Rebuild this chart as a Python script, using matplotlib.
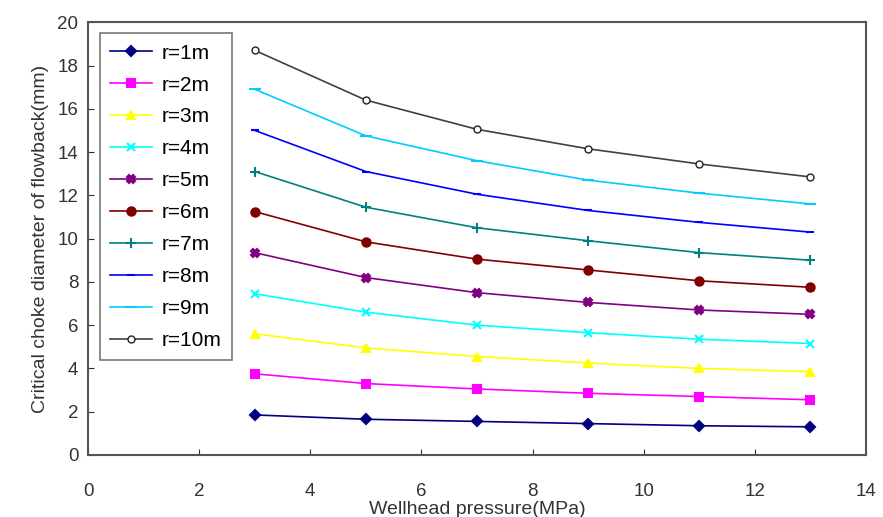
import numpy as np
import matplotlib
matplotlib.use("Agg")
import matplotlib.pyplot as plt

plt.rcParams['font.family'] = ['Liberation Sans', 'DejaVu Sans']

pressure = [3, 5, 7, 9, 11, 13]
labels = ["r=1m", "r=2m", "r=3m", "r=4m", "r=5m", "r=6m", "r=7m", "r=8m", "r=9m", "r=10m"]

r1 = [1.85, 1.65, 1.55, 1.45, 1.35, 1.30]
r2 = [3.75, 3.30, 3.05, 2.85, 2.70, 2.55]
r3 = [5.60, 4.95, 4.55, 4.25, 4.00, 3.85]
r4 = [7.45, 6.60, 6.00, 5.65, 5.35, 5.15]
r5 = [9.35, 8.20, 7.50, 7.05, 6.70, 6.50]
r6 = [11.25, 9.85, 9.05, 8.55, 8.05, 7.75]
r7 = [13.10, 11.45, 10.50, 9.90, 9.35, 9.00]
r8 = [15.00, 13.10, 12.05, 11.30, 10.75, 10.30]
r9 = [16.90, 14.75, 13.60, 12.70, 12.10, 11.60]
r10 = [18.70, 16.40, 15.05, 14.15, 13.45, 12.85]
series = [r1, r2, r3, r4, r5, r6, r7, r8, r9, r10]

colors = ["#000080", "#ff00ff", "#ffff00", "#00ffff", "#800080",
          "#800000", "#008080", "#0000ff", "#00ccff", "#404040"]
markers = ["D", "s", "^", "x", "X", "o", "+", "_", "_", "o"]
msizes = [5, 6, 6, 6, 6, 6, 7, 6, 8, 5]

fig = plt.figure(figsize=(8.83, 5.17), dpi=100)
ax = fig.add_axes([0.0997, 0.12, 0.881, 0.837])

for ys, lab, c, m, ms in zip(series, labels, colors, markers, msizes):
    if lab == "r=10m":
        ax.plot(pressure, ys, color=c, lw=1.2, marker=m, ms=ms,
                markerfacecolor="white", markeredgecolor="#222222", label=lab)
    else:
        ax.plot(pressure, ys, color=c, lw=1.2, marker=m, ms=ms,
                markeredgewidth=1.5, label=lab)

ax.set_xlim(0, 14)
ax.set_ylim(0, 20)
ax.set_xticks(np.arange(0, 15, 2))
ax.set_yticks(np.arange(0, 21, 2))
ax.tick_params(direction="in", length=4, labelsize=13.5, colors="#333333",
               labelcolor="#333333")
ax.tick_params(axis="x", pad=20)
ax.tick_params(axis="y", pad=7)
for s in ax.spines.values():
    s.set_color("#555555")
    s.set_linewidth(1.5)

ax.set_xlabel("Wellhead pressure(MPa)", fontsize=14, color="#333333", labelpad=1)
ax.set_ylabel("Critical choke diameter of flowback(mm)", fontsize=14,
              color="#333333", labelpad=6)

leg = ax.legend(loc="upper left", bbox_to_anchor=(0.0154, 0.9746), fontsize=15,
                frameon=True, fancybox=False, edgecolor="#555555",
                borderaxespad=0, handlelength=2.0, handletextpad=0.45,
                labelspacing=0.62, borderpad=0.5)
leg.get_frame().set_linewidth(1.2)

fig.savefig("out.png", dpi=100)
